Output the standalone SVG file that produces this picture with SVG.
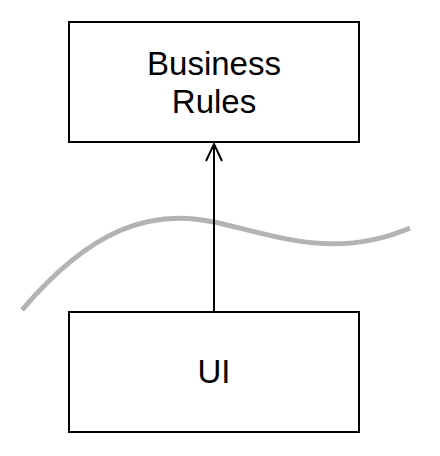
<svg xmlns="http://www.w3.org/2000/svg" width="440" height="456" viewBox="0 0 440 456">
<style>
.box{fill:#fff;stroke:#000;stroke-width:2}
.lbl{font-family:"Liberation Sans",Arial,sans-serif;font-size:33px;fill:#000;text-anchor:middle}
.edge{fill:none;stroke:#000;stroke-width:2}
</style>
<rect width="440" height="456" fill="#fff"/>
<path d="M 22 310 C 90 230, 150 208, 214 222 S 335 260, 410 228" fill="none" stroke="#b3b3b3" stroke-width="5"/>
<g id="business-rules">
<rect class="box" x="69" y="22" width="290" height="120"/>
<text class="lbl" x="214" y="75">Business</text>
<text class="lbl" x="214" y="113">Rules</text>
</g>
<g id="ui">
<rect class="box" x="69" y="312" width="290" height="120"/>
<text class="lbl" x="214" y="383">UI</text>
</g>
<g id="connectors">
<line class="edge" x1="214" y1="312" x2="214" y2="144"/>
<polyline class="edge" points="206,161 214,144 222,161"/>
</g>
</svg>
